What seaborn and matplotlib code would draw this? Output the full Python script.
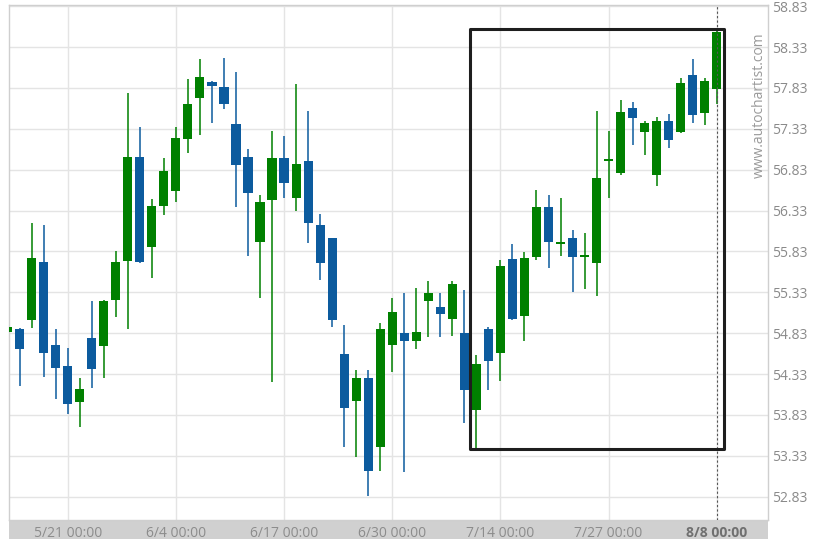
import numpy as np
import pandas as pd
import matplotlib
matplotlib.use("Agg")
import matplotlib.pyplot as plt
from matplotlib.patches import Rectangle
import seaborn as sns

# --- data ---
opens = [54.85, 54.88, 54.99, 55.70, 54.69, 54.43, 53.99, 54.77, 54.67, 55.24,
         55.71, 56.99, 55.89, 56.39, 56.57, 57.21, 57.71, 57.90, 57.84, 57.39,
         56.99, 55.94, 56.46, 56.97, 56.49, 56.94, 56.15, 55.99, 54.57, 54.00,
         54.28, 53.44, 54.69, 54.83, 54.74, 55.23, 55.15, 55.00, 54.83, 53.89,
         54.88, 54.59, 55.74, 55.04, 55.76, 56.37, 55.92, 56.00, 55.76, 55.69,
         56.94, 56.79, 57.59, 57.29, 56.76, 57.43, 57.29, 57.99, 57.52, 57.82]
highs = [54.91, 54.89, 56.18, 56.15, 54.88, 54.65, 54.28, 55.23, 55.24, 55.84,
         57.77, 57.35, 56.47, 56.97, 57.35, 57.94, 58.19, 57.91, 58.20, 58.03,
         57.08, 56.52, 57.30, 57.24, 57.88, 57.55, 56.29, 55.99, 54.93, 54.38,
         54.38, 54.95, 55.26, 55.32, 55.38, 55.47, 55.32, 55.47, 55.36, 54.56,
         54.90, 55.73, 55.92, 55.82, 56.58, 56.52, 56.48, 56.09, 56.06, 57.55,
         57.30, 57.68, 57.66, 57.43, 57.48, 57.51, 57.95, 58.19, 57.95, 58.55]
lows = [54.84, 54.19, 54.89, 54.30, 54.03, 53.84, 53.68, 54.16, 54.28, 55.03,
        54.88, 55.69, 55.51, 56.28, 56.43, 57.03, 57.25, 57.40, 57.57, 56.38,
        55.77, 55.26, 54.23, 56.48, 56.33, 55.93, 55.48, 54.90, 53.44, 53.32,
        52.84, 53.14, 54.35, 53.13, 54.64, 54.78, 54.78, 54.80, 53.73, 53.43,
        54.13, 54.25, 54.99, 54.73, 55.72, 55.63, 55.77, 55.34, 55.37, 55.28,
        56.48, 56.76, 57.13, 57.01, 56.63, 57.09, 57.28, 57.40, 57.38, 57.63]
closes = [54.90, 54.64, 55.75, 54.59, 54.41, 53.97, 54.15, 54.39, 55.23, 55.70,
          56.99, 55.70, 56.39, 56.82, 57.22, 57.64, 57.97, 57.86, 57.64, 56.89,
          56.54, 56.44, 56.97, 56.67, 56.90, 56.18, 55.69, 54.99, 53.92, 54.28,
          53.14, 54.88, 55.09, 54.74, 54.85, 55.32, 55.07, 55.43, 54.14, 54.45,
          54.49, 55.65, 55.00, 55.75, 56.37, 55.94, 55.94, 55.76, 55.77, 56.73,
          56.95, 57.53, 57.46, 57.40, 57.42, 57.19, 57.89, 57.50, 57.92, 58.52]

date_labels = ['5/21 00:00', '6/4 00:00', '6/17 00:00', '6/30 00:00',
               '7/14 00:00', '7/27 00:00', '8/8 00:00']
price_ticks = [52.83, 53.33, 53.83, 54.33, 54.83, 55.33, 55.83,
               56.33, 56.83, 57.33, 57.83, 58.33, 58.83]

# pattern box: candle range and price range
box_start, box_end = 38.47, 59.63
box_low, box_high = 53.41, 58.55

UP = '#008000'
DOWN = '#0c5b9e'

df = pd.DataFrame({'open': opens, 'high': highs, 'low': lows, 'close': closes})
df['idx'] = np.arange(len(df))
df['color'] = np.where(df['close'] >= df['open'], UP, DOWN)
df['body_lo'] = df[['open', 'close']].min(axis=1)
df['body_h'] = (df['close'] - df['open']).abs().clip(lower=0.025)

sns.set_theme(style="white")
plt.rcParams['font.family'] = ['Open Sans', 'DejaVu Sans']

fig = plt.figure(figsize=(8.22, 5.48), dpi=100)
ax = fig.add_axes([8.5 / 822, 28 / 548, 759.5 / 822, 515 / 548])

# grid
tick_idx = list(range(5, len(df), 9))
for t in price_ticks:
    ax.axhline(t, color='#e4e4e4', lw=1, zorder=0)
for t in tick_idx:
    ax.axvline(t, color='#e4e4e4', lw=1, zorder=0)

# wicks + bodies
ax.vlines(df['idx'], df['low'], df['high'], colors=df['color'], lw=1.1, zorder=2)
ax.bar(df['idx'], df['body_h'], bottom=df['body_lo'], width=0.76,
       color=df['color'], edgecolor='none', zorder=3)

# last candle marker
ax.axvline(tick_idx[-1], color='#555555', lw=0.8, ls=(0, (2, 2)), zorder=4)

# pattern box
ax.add_patch(Rectangle((box_start, box_low), box_end - box_start, box_high - box_low,
                       fill=False, edgecolor='#1e1e1e', lw=2.2, joinstyle='round',
                       zorder=5))

ax.set_xlim(0.075, 63.26)
ax.set_ylim(52.545, 58.845)

ax.yaxis.tick_right()
ax.set_yticks(price_ticks)
ax.set_yticklabels([f'{t:.2f}' for t in price_ticks])
ax.tick_params(axis='y', length=0, pad=3, labelsize=10, labelcolor='#8a8a8a')

ax.set_xticks(tick_idx)
ax.set_xticklabels(date_labels)
ax.tick_params(axis='x', length=0, pad=4, labelsize=10, labelcolor='#8c8c8c')
last = ax.get_xticklabels()[-1]
last.set_fontweight('bold')
last.set_color('#707070')

for s in ax.spines.values():
    s.set_color('#cfcfcf')
    s.set_linewidth(1)

# gray date band under the plot
fig.add_artist(Rectangle((8.5 / 822, 9 / 548), 759.5 / 822, 19 / 548,
                         transform=fig.transFigure, facecolor='#d0d0d0',
                         edgecolor='none', zorder=0))

ax.text(0.988, 0.9476, 'www.autochartist.com', transform=ax.transAxes,
        rotation=90, ha='center', va='top', fontsize=10, color='#9a9a9a')

fig.savefig('out.png', dpi=100)
